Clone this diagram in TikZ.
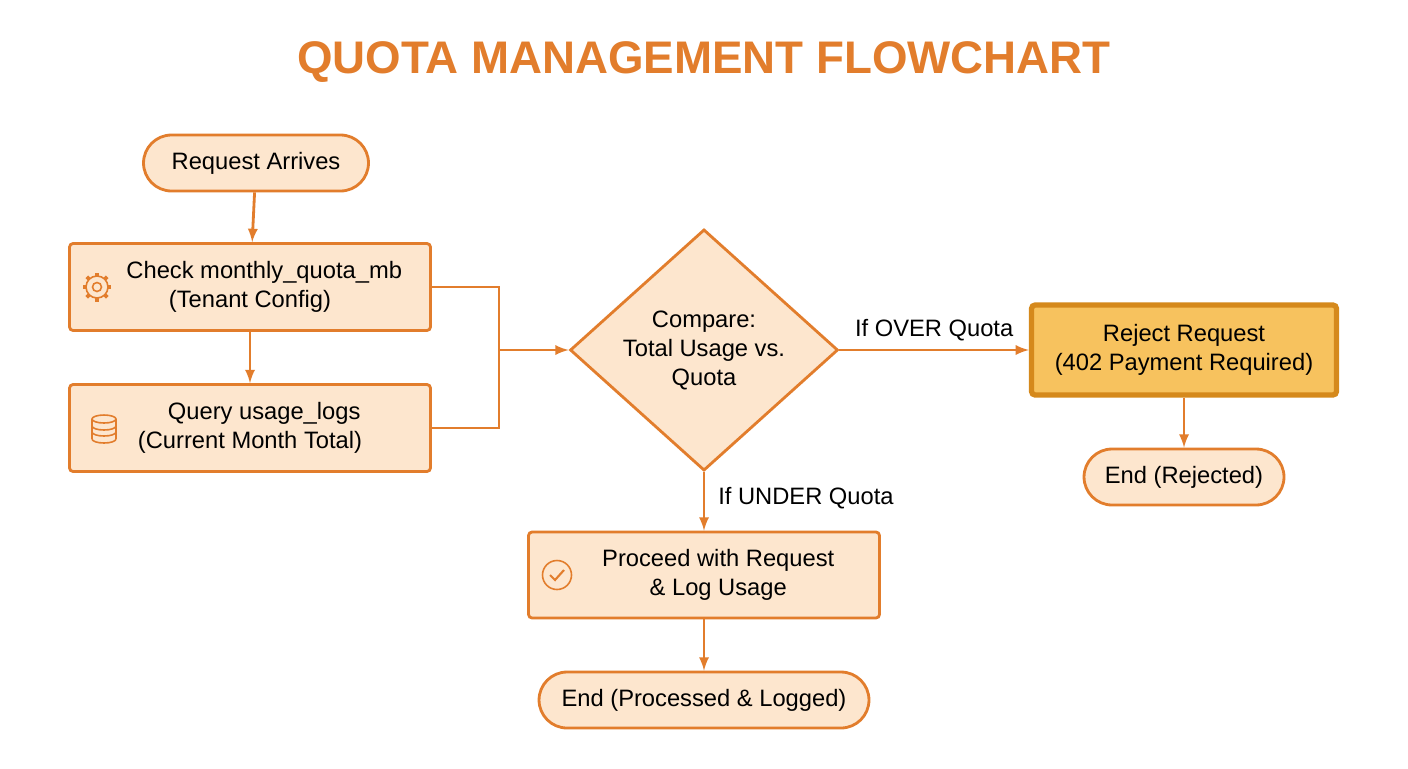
\documentclass[tikz,border=0pt]{standalone}
\usepackage{fontspec}
\setmainfont{Liberation Sans}
\usetikzlibrary{shapes.geometric}
\definecolor{qorange}{HTML}{E27D2C}
\definecolor{qpeach}{HTML}{FDE6CE}
\definecolor{qgold}{HTML}{F7C25E}
\definecolor{qdark}{HTML}{D5891C}
\begin{document}
\begin{tikzpicture}[x=0.02cm,y=-0.02cm,
  every node/.style={font=\fontsize{13.5}{16.5}\selectfont, text=black, align=center},
  pill/.style={draw=qorange, line width=1.6pt, fill=qpeach, rounded corners=0.56cm, minimum height=1.12cm},
  procbox/.style={draw=qorange, line width=1.6pt, fill=qpeach, rounded corners=2pt, minimum width=7.22cm, minimum height=1.74cm},
  flow/.style={draw=qorange, line width=1.6pt, >=latex, ->},
  icon/.style={draw=qorange, line width=0.9pt}]
\useasboundingbox[fill=white] (0,0) rectangle (1408,768);

\node[font=\fontsize{26}{30}\selectfont\bfseries, text=qorange] (title) at (704,62) {QUOTA MANAGEMENT FLOWCHART};

\node[pill, minimum width=4.5cm] (arrive) at (256,163) {Request Arrives};
\node[procbox] (check) at (250,287) {\hspace*{1.2em}Check monthly\_quota\_mb\\(Tenant Config)};
\node[procbox] (query) at (250,428) {\hspace*{1.2em}Query usage\_logs\\(Current Month Total)};
\node[diamond, draw=qorange, line width=1.6pt, fill=qpeach, minimum width=5.36cm, minimum height=3.56cm, inner sep=0pt] (cmp) at (704,350) {Compare:\\Total Usage vs.\\Quota};
\node[draw=qdark, line width=3pt, fill=qgold, rounded corners=2pt, minimum width=6.1cm, minimum height=1.8cm] (reject) at (1184,350) {Reject Request\\(402 Payment Required)};
\node[pill, minimum width=4cm] (endrej) at (1184,477) {End (Rejected)};
\node[procbox, minimum width=7.02cm, minimum height=1.72cm] (proceed) at (704,575) {\hspace*{1.2em}Proceed with Request\\\hspace*{1.2em}\& Log Usage};
\node[pill, minimum width=6.6cm] (endok) at (704,700) {End (Processed \& Logged)};

% connectors
\draw[flow] (arrive) -- (check);
\draw[flow] (check) -- (query);
\coordinate (join) at (499,350);
\draw[qorange, line width=1.6pt] (check.east) -| (join) |- (query.east);
\draw[flow] (join) -- (cmp.west);
\draw[flow] (cmp.east) -- node[above=1pt]{If OVER Quota} (reject.west);
\draw[flow] (reject) -- (endrej);
\draw[flow] (cmp.south) -- node[right=4pt, pos=0.45]{If UNDER Quota} (proceed.north);
\draw[flow] (proceed) -- (endok);

% icons
\foreach \a in {0,45,...,315}
  \draw[icon, line width=2.2pt] (97,287) ++(\a:0.2cm) -- ++(\a:0.09cm);
\draw[icon, fill=qpeach] (97,287) circle (0.22cm);
\draw[icon] (97,287) circle (0.09cm);
\draw[icon] (92,419) -- (92,439) (116,419) -- (116,439);
\draw[icon] (104,419) ellipse (0.24cm and 0.08cm);
\draw[icon] (92,426) arc (180:360:0.24cm and 0.08cm);
\draw[icon] (92,432) arc (180:360:0.24cm and 0.08cm);
\draw[icon] (92,439) arc (180:360:0.24cm and 0.08cm);
\draw[icon] (557,575) circle (0.29cm);
\draw[icon, line width=1.2pt] (550,575) -- (555,580) -- (564,570);
\end{tikzpicture}
\end{document}
